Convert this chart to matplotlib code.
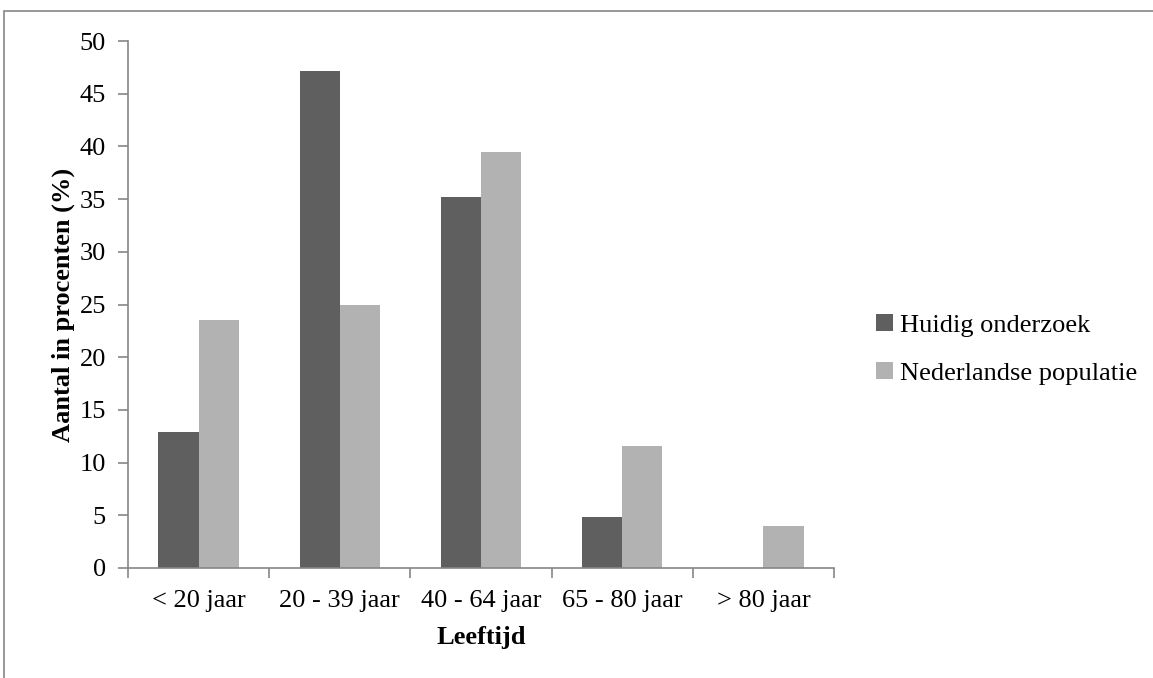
import numpy as np
import matplotlib.pyplot as plt
from matplotlib.patches import Rectangle

# ====== Data ======
categories = ["< 20 jaar", "20 - 39 jaar", "40 - 64 jaar", "65 - 80 jaar", "> 80 jaar"]
huidig = [12.9, 47.2, 35.2, 4.8, 0.0]
nederland = [23.5, 25.0, 39.5, 11.6, 4.0]
series_names = ["Huidig onderzoek", "Nederlandse populatie"]

plt.rcParams['font.family'] = ['Liberation Serif', 'DejaVu Serif']
grey = "#868686"
fs = 19

fig = plt.figure(figsize=(11.53, 6.78), dpi=100)
ax = fig.add_axes([128 / 1153, 1 - 568 / 678, (834 - 128) / 1153, (568 - 41) / 678])

# Outer frame (cut off on right and bottom)
fig.patches.append(Rectangle((4 / 1153, -0.5), 2.0, 0.5 + (1 - 11 / 678),
                             transform=fig.transFigure, fill=False,
                             edgecolor=grey, linewidth=1.2))

x = np.arange(len(categories))
w = 0.284
ax.bar(x - w / 2, huidig, w, color="#5f5f5f", label=series_names[0])
ax.bar(x + w / 2, nederland, w, color="#b2b2b2", label=series_names[1])

ax.set_xlim(-0.5, len(categories) - 0.5)
ax.set_ylim(0, 50)
ax.set_yticks(np.arange(0, 51, 5))
ax.set_xticks(x)
ax.set_xticklabels(categories)
ax.set_xticks(np.arange(-0.5, len(categories), 1), minor=True)
ax.tick_params(axis="x", which="major", length=0, pad=16, labelsize=fs)
ax.tick_params(axis="x", which="minor", length=7, color=grey, width=1.2)
ax.tick_params(axis="y", length=7, color=grey, width=1.2, labelsize=fs, pad=9)

for s in ["top", "right"]:
    ax.spines[s].set_visible(False)
for s in ["left", "bottom"]:
    ax.spines[s].set_color(grey)
    ax.spines[s].set_linewidth(1.2)

ax.set_xlabel("Leeftijd", fontsize=fs, fontweight="bold", labelpad=10)
ax.set_ylabel("Aantal in procenten (%)", fontsize=fs, fontweight="bold", labelpad=3)

ax.legend(loc="center left", bbox_to_anchor=(1.045, 0.415), frameon=False,
          fontsize=fs, handlelength=0.65, handleheight=0.65, handletextpad=0.25,
          labelspacing=0.95, borderaxespad=0)

fig.savefig("out.png", dpi=100)
